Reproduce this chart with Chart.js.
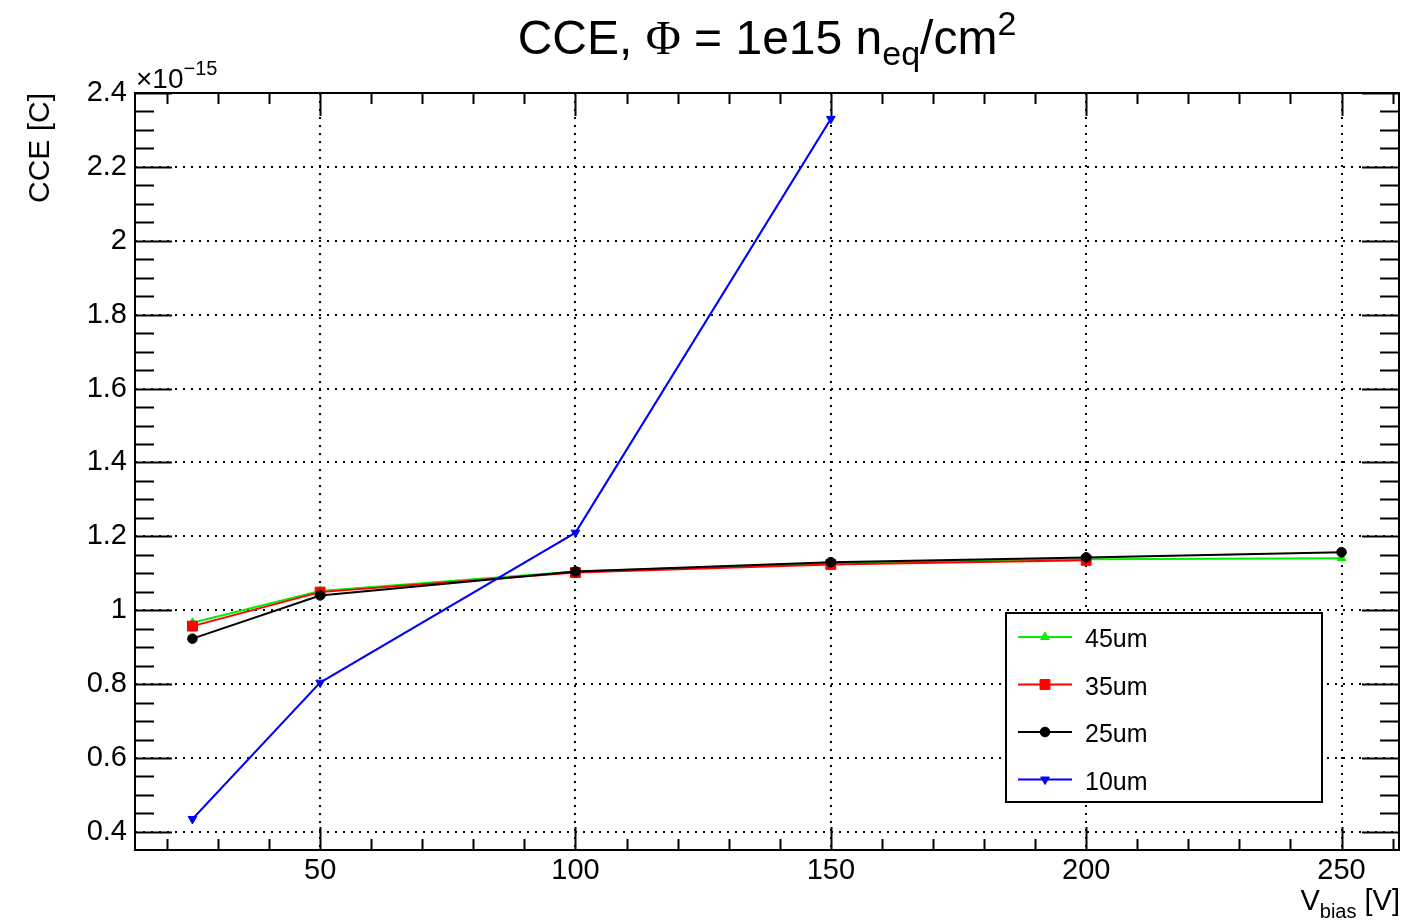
<!DOCTYPE html>
<html>
<head>
<meta charset="utf-8">
<title>CCE vs bias voltage</title>
<script src="https://cdn.jsdelivr.net/npm/chart.js@4.4.0/dist/chart.umd.min.js"></script>
<style>
  html, body { margin: 0; padding: 0; background: #fff; }
  #wrap { position: relative; width: 1416px; height: 920px; }
</style>
</head>
<body>
<div id="wrap"><canvas id="cce"></canvas></div>
<script>
// bias voltage [V]
const biasVoltages = [25, 50, 100, 150, 200, 250];
// collected charge per sensor thickness, in units of 1e-15 C
const cce45 = [0.966, 1.052, 1.105, 1.127, 1.138, 1.141];
const cce35 = [0.957, 1.049, 1.102, 1.124, 1.135];
const cce25 = [0.923, 1.040, 1.105, 1.130, 1.143, 1.157];
const cce10 = [0.435, 0.804, 1.210, 2.330];

const seriesNames = ['45um', '35um', '25um', '10um'];
const xTickValues = [50, 100, 150, 200, 250];
const yTickValues = [0.4, 0.6, 0.8, 1, 1.2, 1.4, 1.6, 1.8, 2, 2.2, 2.4];

const SANS = '"Liberation Sans", Arial, Helvetica, sans-serif';
const SERIF = '"Liberation Serif", "Times New Roman", serif';
Chart.defaults.font.family = SANS;

const toPoints = ys => ys.map((y, i) => ({ x: biasVoltages[i], y: y }));

function series(label, values, color, style, radius, rotation, order) {
  return {
    label: label,
    data: toPoints(values),
    borderColor: color,
    backgroundColor: color,
    borderWidth: 2,
    pointStyle: style,
    pointRadius: radius,
    pointRotation: rotation,
    pointBorderWidth: 1,
    tension: 0,
    order: order
  };
}

// rich text: runs of text with their own font and vertical shift
function drawRich(ctx, parts, x, y, align) {
  let w = 0;
  parts.forEach(p => { ctx.font = p.font; w += ctx.measureText(p.text).width; });
  let cx = align === 'center' ? x - w / 2 : align === 'right' ? x - w : x;
  ctx.textAlign = 'left';
  ctx.textBaseline = 'alphabetic';
  parts.forEach(p => {
    ctx.font = p.font;
    ctx.fillText(p.text, cx, y + (p.dy || 0));
    cx += ctx.measureText(p.text).width;
  });
}

// frame with ROOT style ticks on all four sides
const frameTicks = {
  id: 'frameTicks',
  beforeDatasetsDraw(chart) {
    const { ctx, chartArea: a, scales: { x, y } } = chart;
    ctx.save();
    ctx.strokeStyle = '#000';
    ctx.lineWidth = 2;
    ctx.beginPath();
    const xTick = (v, len) => {
      const px = Math.round(x.getPixelForValue(v)) + 0.5;
      ctx.moveTo(px, a.bottom); ctx.lineTo(px, a.bottom - len);
      ctx.moveTo(px, a.top); ctx.lineTo(px, a.top + len);
    };
    const yTick = (v, len) => {
      const py = Math.round(y.getPixelForValue(v)) + 0.5;
      ctx.moveTo(a.left, py); ctx.lineTo(a.left + len, py);
      ctx.moveTo(a.right, py); ctx.lineTo(a.right - len, py);
    };
    for (let v = 20; v <= 260; v += 10) xTick(v, v % 50 === 0 ? 23 : 11);
    for (let k = 8; k <= 48; k++) yTick(k * 0.05, k % 4 === 0 ? 37 : 19);
    ctx.stroke();
    ctx.lineWidth = 2;
    ctx.strokeRect(a.left, a.top, a.right - a.left, a.bottom - a.top);
    ctx.restore();
  }
};

// title, axis titles and the exponent label
const captions = {
  id: 'captions',
  afterDraw(chart) {
    const { ctx, chartArea: a } = chart;
    ctx.save();
    ctx.fillStyle = '#000';
    const mid = (a.left + a.right) / 2;
    drawRich(ctx, [
      { text: 'CCE, ', font: '48px ' + SANS },
      { text: 'Φ', font: '48px ' + SERIF },
      { text: ' = 1e15 n', font: '48px ' + SANS },
      { text: 'eq', font: '34px ' + SANS, dy: 11 },
      { text: '/cm', font: '48px ' + SANS },
      { text: '2', font: '34px ' + SANS, dy: -19 }
    ], mid, 54, 'center');

    drawRich(ctx, [
      { text: 'V', font: '29px ' + SANS },
      { text: 'bias', font: '20px ' + SANS, dy: 8 },
      { text: ' [V]', font: '29px ' + SANS }
    ], a.right + 1, 910, 'right');

    drawRich(ctx, [
      { text: '×10', font: '28px ' + SANS },
      { text: '−15', font: '20px ' + SANS, dy: -13 }
    ], a.left + 1, 88, 'left');

    ctx.translate(49, a.top);
    ctx.rotate(-Math.PI / 2);
    ctx.font = '30px ' + SANS;
    ctx.textAlign = 'right';
    ctx.textBaseline = 'alphabetic';
    ctx.fillText('CCE [C]', 0, 0);
    ctx.restore();
  }
};

// boxed legend inside the plot, lower right
const legendBox = {
  id: 'legendBox',
  afterDraw(chart) {
    const { ctx } = chart;
    const box = { x: 1006, y: 613, w: 316, h: 189 };
    ctx.save();
    ctx.fillStyle = '#fff';
    ctx.fillRect(box.x, box.y, box.w, box.h);
    ctx.strokeStyle = '#000';
    ctx.lineWidth = 2;
    ctx.strokeRect(box.x, box.y, box.w, box.h);
    chart.data.datasets.forEach((ds, i) => {
      const yc = 637 + i * 47.5;
      ctx.strokeStyle = ds.borderColor;
      ctx.fillStyle = ds.borderColor;
      ctx.lineWidth = 2;
      ctx.beginPath();
      ctx.moveTo(1018, yc); ctx.lineTo(1072, yc);
      ctx.stroke();
      ctx.lineWidth = 1;
      Chart.helpers.drawPoint(ctx, {
        pointStyle: ds.pointStyle, rotation: ds.pointRotation,
        radius: ds.pointRadius, borderWidth: 1
      }, 1045, yc);
      ctx.fillStyle = '#000';
      ctx.font = '25px ' + SANS;
      ctx.textAlign = 'left';
      ctx.textBaseline = 'alphabetic';
      ctx.fillText(ds.label, 1085, yc + 10);
    });
    ctx.restore();
  }
};

new Chart(document.getElementById('cce'), {
  type: 'line',
  data: {
    datasets: [
      series(seriesNames[0], cce45, '#00ee00', 'triangle', 5, 0, 4),
      series(seriesNames[1], cce35, '#ff0000', 'rect', 7, 0, 3),
      series(seriesNames[2], cce25, '#000000', 'circle', 4.8, 0, 2),
      series(seriesNames[3], cce10, '#0000ff', 'triangle', 5, 180, 1)
    ]
  },
  options: {
    responsive: true,
    maintainAspectRatio: false,
    animation: false,
    layout: { padding: { left: 85, right: 17, top: 93, bottom: 30 } },
    plugins: { legend: { display: false }, title: { display: false }, tooltip: { enabled: false } },
    scales: {
      x: {
        type: 'linear',
        min: 13.75,
        max: 261.25,
        afterBuildTicks: s => { s.ticks = xTickValues.map(v => ({ value: v })); },
        afterFit: s => { s.height = 40; },
        ticks: {
          color: '#000', font: { size: 29 }, padding: 4,
          maxRotation: 0, autoSkip: false,
          callback: v => String(v)
        },
        grid: { color: '#000', lineWidth: 2, drawTicks: false },
        border: { display: false, dash: [2, 6] }
      },
      y: {
        type: 'linear',
        min: 0.351,
        max: 2.4,
        afterBuildTicks: s => { s.ticks = yTickValues.map(v => ({ value: v })); },
        afterFit: s => { s.width = 50; },
        ticks: {
          color: '#000', font: { size: 29 }, padding: 8,
          autoSkip: false,
          callback: v => String(Number(v.toFixed(1)))
        },
        grid: { color: '#000', lineWidth: 2, drawTicks: false },
        border: { display: false, dash: [2, 6] }
      }
    }
  },
  plugins: [frameTicks, captions, legendBox]
});
</script>
</body>
</html>
